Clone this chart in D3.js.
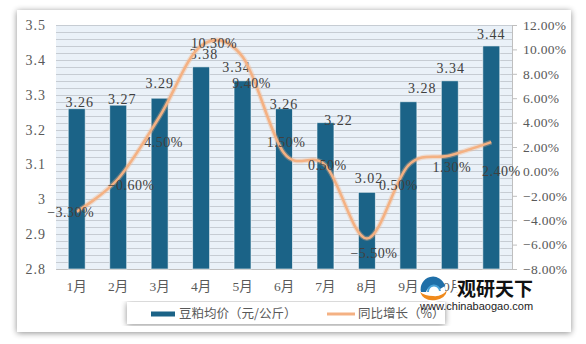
<!DOCTYPE html>
<html><head><meta charset="utf-8">
<script src="https://cdn.jsdelivr.net/npm/d3@7"></script>
<style>html,body{margin:0;padding:0;background:#fff;}svg{display:block;}</style>
</head><body>
<svg id="chart" width="586" height="344"></svg>
<script>
// ---- data ----
const months = ["1月","2月","3月","4月","5月","6月","7月","8月","9月","10月","11月"];
const prices = [3.26,3.27,3.29,3.38,3.34,3.26,3.22,3.02,3.28,3.34,3.44];
const growth = [-3.3,-0.6,4.5,10.3,9.4,1.5,0.5,-5.5,0.5,1.3,2.4];
const leftTicks = [2.8,2.9,3.0,3.1,3.2,3.3,3.4,3.5];
const rightTicks = [-8,-6,-4,-2,0,2,4,6,8,10,12];
const seriesNames = ["豆粕均价（元/公斤）","同比增长（%）"];

// ---- label layout tweaks (px) ----
const barLabelDx = [3,4,0,3,-6,0,13,2,14,1,0];
const barLabelDy = [-7,-6,-15,-13,-14,-5,-3,-14,-14,-13,-12];
const pctLabelDx = [-6,13,4,13,9,2,2,7,-10,2,10];
const pctLabelDy = [0,6,26,-3,26,-11,0,15,20,12,29];

const barColor = "#1b6387";
const lineColor = "#f4b183";
const numFont = "'Liberation Serif','Noto Sans CJK SC',serif";
const cjkFont = "'Noto Sans CJK SC',sans-serif";

const svg = d3.select("#chart");
const defs = svg.append("defs");
const f = defs.append("filter").attr("id","shadow").attr("x","-5%").attr("y","-5%").attr("width","110%").attr("height","110%");
f.append("feGaussianBlur").attr("in","SourceAlpha").attr("stdDeviation",3);
f.append("feOffset").attr("dx",0).attr("dy",1).attr("result","b");
f.append("feComponentTransfer").append("feFuncA").attr("type","linear").attr("slope",0.45);
const fm = f.append("feMerge"); fm.append("feMergeNode"); fm.append("feMergeNode").attr("in","SourceGraphic");

// card
svg.append("rect").attr("x",17).attr("y",10).attr("width",554).attr("height",322)
  .attr("fill","#fff").attr("filter","url(#shadow)");

const L = 56, R = 512, T = 25, B = 269;
const x = d3.scaleBand().domain(months).range([L,R]).paddingInner(0.59).paddingOuter(0.295);
const yL = d3.scaleLinear().domain([2.8,3.5]).range([B,T]);
const yR = d3.scaleLinear().domain([-8,12]).range([B,T]);

// plot background
svg.append("rect").attr("x",L).attr("y",T).attr("width",R-L).attr("height",B-T).attr("fill","#eaf1f8");

// minor gridlines every 0.02
const gridVals = d3.range(0,36).map(i => +(2.8 + i*0.02).toFixed(2));
svg.append("g").selectAll("line").data(gridVals).join("line")
  .attr("x1",L).attr("x2",R).attr("y1",d=>Math.round(yL(d))+0.5).attr("y2",d=>Math.round(yL(d))+0.5)
  .attr("stroke","#c6ccd3").attr("stroke-width",1);

// left axis
const gl = svg.append("g").attr("transform",`translate(${L},0)`)
  .call(d3.axisLeft(yL).tickValues(leftTicks).tickSize(0).tickPadding(10).tickFormat(d=> d===3 ? "3" : d3.format(".1f")(d)));
gl.select(".domain").remove();
gl.selectAll("text").attr("font-family",numFont).attr("font-size",14).attr("letter-spacing",1).attr("fill","#595959");

// right axis
const gr = svg.append("g").attr("transform",`translate(${R},0)`)
  .call(d3.axisRight(yR).tickValues(rightTicks).tickSize(5).tickPadding(6).tickFormat(d=>d3.format(".2f")(d)+"%"));
gr.select(".domain").attr("stroke","#bfbfbf");
gr.selectAll(".tick line").attr("stroke","#bfbfbf");
gr.selectAll("text").attr("font-family",numFont).attr("font-size",13.5).attr("letter-spacing",0.3).attr("fill","#595959");

// bottom axis
const gb = svg.append("g").attr("transform",`translate(0,${B})`)
  .call(d3.axisBottom(x).tickSize(0).tickPadding(12));
gb.select(".domain").attr("stroke","#bfbfbf");
gb.selectAll("text").attr("font-family",numFont).attr("font-size",13.5).attr("fill","#595959");

// bars
svg.append("g").selectAll("rect").data(prices).join("rect")
  .attr("x",(d,i)=>x(months[i])).attr("width",x.bandwidth())
  .attr("y",d=>yL(d)).attr("height",d=>B-yL(d))
  .attr("fill",barColor).attr("stroke","#ffffff").attr("stroke-opacity",0.6).attr("stroke-width",1);

// bar labels
svg.append("g").selectAll("text").data(prices).join("text")
  .attr("x",(d,i)=>x(months[i])+x.bandwidth()/2+barLabelDx[i])
  .attr("y",(d,i)=>yL(d)+barLabelDy[i]).attr("dy","0.35em")
  .attr("text-anchor","middle").attr("font-family",numFont).attr("font-size",14).attr("letter-spacing",1).attr("fill","#404040")
  .text(d=>d3.format(".2f")(d));

// line
const cx = i => x(months[i]) + x.bandwidth()/2;
const line = d3.line().x((d,i)=>cx(i)).y(d=>yR(d)).curve(d3.curveCardinal.tension(0));
svg.append("path").datum(growth).attr("d",line).attr("fill","none")
  .attr("stroke",lineColor).attr("stroke-width",5).attr("stroke-opacity",0.35);
svg.append("path").datum(growth).attr("d",line).attr("fill","none")
  .attr("stroke",lineColor).attr("stroke-width",2.5);

// line labels
svg.append("g").selectAll("text").data(growth).join("text")
  .attr("x",(d,i)=>cx(i)+pctLabelDx[i])
  .attr("y",(d,i)=>yR(d)+pctLabelDy[i]).attr("dy","0.35em")
  .attr("text-anchor","middle").attr("font-family",numFont).attr("font-size",14).attr("letter-spacing",0.5).attr("fill","#404040")
  .text(d=>d3.format(".2f")(d)+"%");

// legend
svg.append("rect").attr("x",127).attr("y",302).attr("width",318).attr("height",22)
  .attr("fill","#fff").attr("filter","url(#shadow)");
svg.append("rect").attr("x",151).attr("y",311.5).attr("width",24).attr("height",5).attr("fill",barColor);
svg.append("text").attr("x",179).attr("y",314).attr("dy","0.35em").attr("font-family",cjkFont)
  .attr("font-size",12.5).attr("fill","#595959").text(seriesNames[0]);
svg.append("line").attr("x1",327).attr("x2",355).attr("y1",314).attr("y2",314)
  .attr("stroke",lineColor).attr("stroke-width",3);
svg.append("text").attr("x",358).attr("y",314).attr("dy","0.35em").attr("font-family",cjkFont)
  .attr("font-size",12.5).attr("fill","#595959").text(seriesNames[1]);

// watermark logo (drawn over the axis labels, as in the reference)
const logo = svg.append("g");
logo.append("circle").attr("cx",433).attr("cy",290).attr("r",12).attr("fill","#fff");
logo.append("path").attr("d","M421,292 A12,12 0 0 1 445,286 L440,289 A8,8 0 0 0 426,292 Z").attr("fill","#1f6fa8");
logo.append("path").attr("d","M420,292 Q424,302 436,300 Q446,298 447,290 Q442,297 433,296 Q425,296 420,292 Z").attr("fill","#f08a1c");
logo.append("path").attr("d","M428,292 A6,6 0 0 1 440,291").attr("fill","none").attr("stroke","#4aa3d8").attr("stroke-width",2);
logo.append("text").attr("x",457).attr("y",289).attr("dy","0.35em").attr("font-family",cjkFont)
  .attr("font-weight","bold").attr("font-size",19).attr("fill","#111")
  .attr("stroke","#fff").attr("stroke-width",4).attr("paint-order","stroke").text("观研天下");
logo.append("text").attr("x",420).attr("y",306).attr("dy","0.35em").attr("font-family","'Liberation Sans',Arial,sans-serif")
  .attr("font-size",11).attr("fill","#222").text("www.chinabaogao.com");
</script>
</body></html>
